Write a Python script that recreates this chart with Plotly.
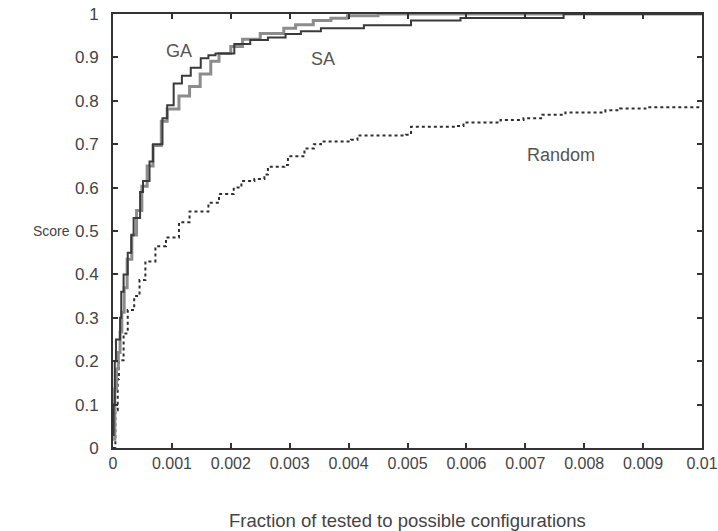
import plotly.graph_objects as go

# x values in units of 1e-3 (fraction of tested to possible configurations)
ga_x = [0, 0.01, 0.03, 0.05, 0.12, 0.14, 0.18, 0.25, 0.31, 0.35, 0.46, 0.51, 0.62, 0.68,
        0.84, 0.92, 1.03, 1.17, 1.32, 1.49, 1.62, 1.74, 2.06, 2.33, 2.63, 2.93, 3.19, 3.53,
        4.26, 5.06, 5.90, 7.65, 10.0]
ga_y = [0.03, 0.10, 0.20, 0.25, 0.30, 0.36, 0.40, 0.45, 0.49, 0.53, 0.59, 0.615, 0.66, 0.70,
        0.76, 0.79, 0.84, 0.858, 0.876, 0.898, 0.905, 0.909, 0.931, 0.94, 0.946, 0.954, 0.96, 0.967,
        0.974, 0.985, 0.991, 1.0, 1.0]

sa_x = [0, 0.03, 0.06, 0.09, 0.12, 0.15, 0.19, 0.24, 0.32, 0.40, 0.49, 0.58, 0.68, 0.82,
        0.92, 1.12, 1.30, 1.48, 1.66, 1.80, 2.00, 2.20, 2.50, 2.90, 3.10, 3.40, 3.70, 3.98, 4.50, 10.0]
sa_y = [0.02, 0.136, 0.182, 0.22, 0.267, 0.313, 0.369, 0.435, 0.491, 0.547, 0.603, 0.65, 0.697, 0.753,
        0.781, 0.811, 0.833, 0.862, 0.891, 0.909, 0.925, 0.942, 0.955, 0.967, 0.975, 0.985, 0.99, 0.996,
        1.0, 1.0]

rnd_x = [0, 0.04, 0.08, 0.10, 0.18, 0.25, 0.36, 0.45, 0.55, 0.72, 0.90, 1.12, 1.30, 1.62, 1.80,
         2.05, 2.18, 2.40, 2.57, 2.63, 2.91, 2.97, 3.25, 3.41, 3.53, 4.04, 4.15, 4.97, 5.06, 5.82,
         5.95, 6.58, 6.97, 7.29, 7.68, 8.36, 8.61, 9.04, 10.0]
rnd_y = [0.0, 0.087, 0.159, 0.202, 0.264, 0.318, 0.35, 0.387, 0.43, 0.465, 0.485, 0.52, 0.545, 0.565,
         0.585, 0.60, 0.615, 0.62, 0.63, 0.648, 0.652, 0.672, 0.69, 0.70, 0.706, 0.71, 0.72, 0.722,
         0.74, 0.742, 0.75, 0.756, 0.76, 0.768, 0.773, 0.778, 0.782, 0.785, 0.785]

x_ticks = [0, 0.001, 0.002, 0.003, 0.004, 0.005, 0.006, 0.007, 0.008, 0.009, 0.01]
x_tick_labels = ["0", "0.001", "0.002", "0.003", "0.004", "0.005", "0.006", "0.007", "0.008", "0.009", "0.01"]
y_ticks = [0, 0.1, 0.2, 0.3, 0.4, 0.5, 0.6, 0.7, 0.8, 0.9, 1]
y_tick_labels = ["0", "0.1", "0.2", "0.3", "0.4", "0.5", "0.6", "0.7", "0.8", "0.9", "1"]

series_labels = [("GA", 1.12e-3, 0.914), ("SA", 3.57e-3, 0.897), ("Random", 7.6e-3, 0.674)]

FONT = "Liberation Sans, Arial, sans-serif"


def scale(xs):
    return [v * 1e-3 for v in xs]


fig = go.Figure()
fig.add_trace(go.Scatter(x=scale(rnd_x), y=rnd_y, mode="lines", line_shape="hv",
                         line=dict(color="#2e2e2e", width=2, dash="dot"), name="Random"))
fig.add_trace(go.Scatter(x=scale(sa_x), y=sa_y, mode="lines", line_shape="hv",
                         line=dict(color="#8c8c8c", width=3), name="SA"))
fig.add_trace(go.Scatter(x=scale(ga_x), y=ga_y, mode="lines", line_shape="hv",
                         line=dict(color="#3a3a3a", width=2), name="GA"))

for text, x, y in series_labels:
    fig.add_annotation(x=x, y=y, text=text, showarrow=False, xanchor="center", yanchor="middle",
                       font=dict(family=FONT, size=18, color="#555"))

fig.add_annotation(xref="paper", yref="paper", x=0, y=0.5, xshift=-62, text="Score",
                   showarrow=False, xanchor="center", yanchor="middle",
                   font=dict(family=FONT, size=14, color="#444"))
fig.add_annotation(xref="paper", yref="paper", x=0.5, y=0, yshift=-72,
                   text="Fraction of tested to possible configurations",
                   showarrow=False, xanchor="center", yanchor="middle",
                   font=dict(family=FONT, size=18.5, color="#444"))

axis_common = dict(showgrid=False, zeroline=False, showline=True, linecolor="#333", linewidth=2,
                   mirror="ticks", ticks="inside", ticklen=5, tickcolor="#333", tickwidth=1.5,
                   automargin=False, ticklabeloverflow="allow")

fig.update_xaxes(range=[0, 0.01], tickvals=x_ticks, ticktext=x_tick_labels,
                 ticklabelstandoff=0, tickfont=dict(family=FONT, size=16, color="#444"),
                 **axis_common)
fig.update_yaxes(range=[0, 1], tickvals=y_ticks, ticktext=y_tick_labels,
                 ticklabelstandoff=9, tickfont=dict(family=FONT, size=17, color="#444"),
                 **axis_common)

fig.update_layout(width=718, height=531, margin=dict(l=113, r=16, t=14, b=83),
                  plot_bgcolor="white", paper_bgcolor="white", showlegend=False,
                  font=dict(family=FONT, color="#444"))

fig.write_html("out.html", config={"displayModeBar": False},
               post_script="document.body.style.margin='0';document.body.style.overflow='hidden';")
